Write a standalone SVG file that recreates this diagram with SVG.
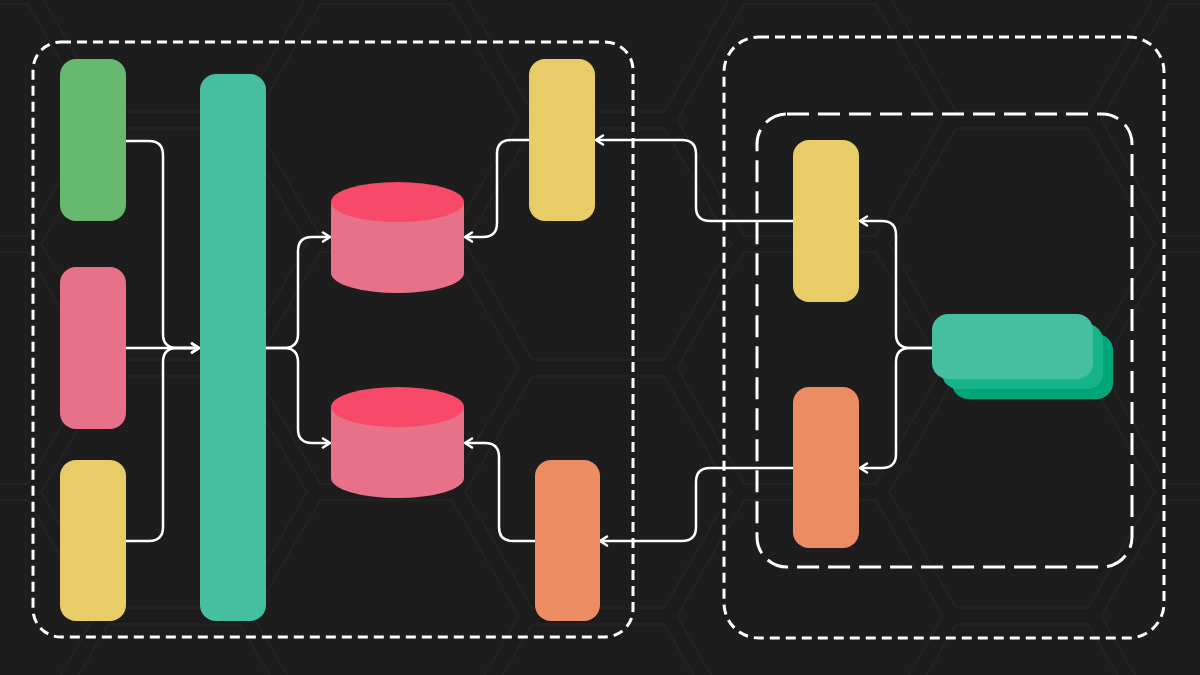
<svg xmlns="http://www.w3.org/2000/svg" xmlns:xlink="http://www.w3.org/1999/xlink" width="1200" height="675" viewBox="0 0 1200 675">
<style>
.hex{fill:#1d1d1d;stroke:#252525;stroke-width:1.5;stroke-linejoin:round}
.group-dash{fill:none;stroke:#ffffff;stroke-width:3;stroke-dasharray:10 6}
.group-dash-long{fill:none;stroke:#ffffff;stroke-width:3;stroke-dasharray:22 9}
.conn{fill:none;stroke:#ffffff;stroke-width:2.5;stroke-linejoin:round}
.arr{marker-end:url(#arrow)}
.green{fill:#66b96f}
.teal{fill:#45bf9f}
.pink{fill:#e8718a}
.yellow{fill:#e7cc68}
.orange{fill:#ec8c63}
.cyl-body{fill:#e8718a}
.cyl-top{fill:#f74a69}
</style>
<defs>
<path id="hexshape" d="M-133,0 L-66,-116 L66,-116 L133,0 L66,116 L-66,116 Z"/>
<marker id="arrow" viewBox="0 0 12 12" refX="10" refY="6" markerWidth="12" markerHeight="12" markerUnits="userSpaceOnUse" orient="auto">
<path d="M3,1.5 L10,6 L3,10.5" fill="none" stroke="#ffffff" stroke-width="2.5" stroke-linecap="round" stroke-linejoin="round"/>
</marker>
</defs>
<rect width="1200" height="675" fill="#1c1c1c"/>
<g id="background-hexagons">
<use href="#hexshape" class="hex" x="-38" y="-128"/>
<use href="#hexshape" class="hex" x="-38" y="120"/>
<use href="#hexshape" class="hex" x="-38" y="368"/>
<use href="#hexshape" class="hex" x="-38" y="616"/>
<use href="#hexshape" class="hex" x="174" y="-4"/>
<use href="#hexshape" class="hex" x="174" y="244"/>
<use href="#hexshape" class="hex" x="174" y="492"/>
<use href="#hexshape" class="hex" x="174" y="740"/>
<use href="#hexshape" class="hex" x="386" y="120"/>
<use href="#hexshape" class="hex" x="386" y="368"/>
<use href="#hexshape" class="hex" x="386" y="616"/>
<use href="#hexshape" class="hex" x="598" y="-4"/>
<use href="#hexshape" class="hex" x="598" y="244"/>
<use href="#hexshape" class="hex" x="598" y="492"/>
<use href="#hexshape" class="hex" x="598" y="740"/>
<use href="#hexshape" class="hex" x="810" y="120"/>
<use href="#hexshape" class="hex" x="810" y="368"/>
<use href="#hexshape" class="hex" x="810" y="616"/>
<use href="#hexshape" class="hex" x="1022" y="-4"/>
<use href="#hexshape" class="hex" x="1022" y="244"/>
<use href="#hexshape" class="hex" x="1022" y="492"/>
<use href="#hexshape" class="hex" x="1022" y="740"/>
<use href="#hexshape" class="hex" x="1234" y="120"/>
<use href="#hexshape" class="hex" x="1234" y="368"/>
<use href="#hexshape" class="hex" x="1234" y="616"/>
</g>
<g id="containers">
<rect id="left-group" class="group-dash" x="33" y="42" width="600" height="595" rx="28"/>
<rect id="right-outer-group" class="group-dash" x="724" y="37" width="440" height="601" rx="35"/>
<rect id="right-inner-group" class="group-dash-long" x="757" y="114" width="375" height="453" rx="30"/>
</g>
<g id="connectors">
<path class="conn arr" d="M126,141 H149 Q163,141 163,155 V334 Q163,348 177,348 H199"/>
<path class="conn arr" d="M126,348 H199"/>
<path class="conn arr" d="M126,541 H149 Q163,541 163,527 V362 Q163,348 177,348 H199"/>
<path class="conn arr" d="M266,348 H284 Q298,348 298,334 V251 Q298,237 312,237 H330"/>
<path class="conn arr" d="M266,348 H284 Q298,348 298,362 V429 Q298,443 312,443 H330"/>
<path class="conn arr" d="M529,140 H511 Q497,140 497,154 V223 Q497,237 483,237 H465"/>
<path class="conn arr" d="M535,541 H513 Q499,541 499,527 V457 Q499,443 485,443 H465"/>
<path class="conn arr" d="M793,221 H710 Q696,221 696,207 V154 Q696,140 682,140 H596"/>
<path class="conn arr" d="M932,348 H910 Q896,348 896,334 V235 Q896,221 882,221 H860"/>
<path class="conn arr" d="M932,348 H910 Q896,348 896,362 V454 Q896,468 882,468 H860"/>
<path class="conn arr" d="M793,468 H710 Q696,468 696,482 V527 Q696,541 682,541 H600"/>
</g>
<g id="node-green"><rect class="green" x="60" y="59" width="66" height="162" rx="16"/></g>
<g id="node-pink"><rect class="pink" x="60" y="267" width="66" height="162" rx="16"/></g>
<g id="node-yellow-left"><rect class="yellow" x="60" y="460" width="66" height="161" rx="16"/></g>
<g id="node-teal-bus"><rect class="teal" x="200" y="74" width="66" height="547" rx="16"/></g>
<g id="node-db-top">
<path class="cyl-body" d="M331,202 V273 A66.5,20 0 0 0 464,273 V202 Z"/>
<ellipse class="cyl-top" cx="397.5" cy="202" rx="66.5" ry="20"/>
</g>
<g id="node-db-bottom">
<path class="cyl-body" d="M331,407 V478 A66.5,20 0 0 0 464,478 V407 Z"/>
<ellipse class="cyl-top" cx="397.5" cy="407" rx="66.5" ry="20"/>
</g>
<g id="node-yellow-mid"><rect class="yellow" x="529" y="59" width="66" height="162" rx="16"/></g>
<g id="node-orange-mid"><rect class="orange" x="535" y="460" width="65" height="161" rx="16"/></g>
<g id="node-yellow-right"><rect class="yellow" x="793" y="140" width="66" height="162" rx="16"/></g>
<g id="node-orange-right"><rect class="orange" x="793" y="387" width="66" height="161" rx="16"/></g>
<g id="node-teal-stack">
<rect x="952" y="334" width="161" height="65" rx="16" fill="#00a67b"/>
<rect x="942" y="324" width="161" height="65" rx="16" fill="#17b489"/>
<rect x="932" y="314" width="161" height="65" rx="16" fill="#45bf9f"/>
</g>
</svg>
